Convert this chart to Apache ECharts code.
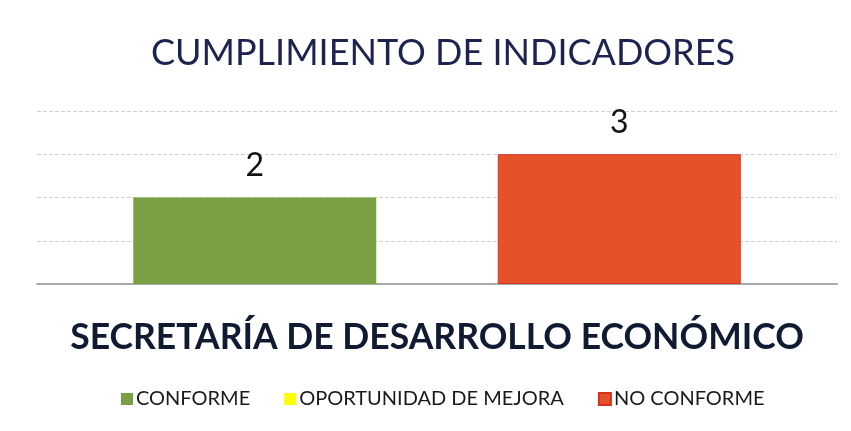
<!DOCTYPE html>
<html>
<head>
<meta charset="utf-8">
<script src="https://cdn.jsdelivr.net/npm/echarts@6/dist/echarts.min.js"></script>
<style>
  * { margin: 0; padding: 0; }
  body { background: #fff; }
  #main { width: 851px; height: 431px; }
</style>
</head>
<body>
<div id="main"></div>
<script>
// datos
var categorias = ['SECRETARÍA DE DESARROLLO ECONÓMICO'];
var conforme = [2];
var oportunidad = [0];
var noConforme = [3];
var colores = ['#7aa043', '#ffff00', '#e4512b'];

var chart = echarts.init(document.getElementById('main'));

function etiqueta(p) {
    return p.value === 0 ? '' : p.value;
}

var labelStyle = {
    show: true,
    position: 'top',
    distance: 16,
    formatter: etiqueta,
    color: '#111',
    fontSize: 32,
    fontFamily: 'Lato'
};

chart.setOption({
    backgroundColor: '#fff',
    title: {
        text: 'CUMPLIMIENTO DE INDICADORES',
        left: 146,
        top: 30,
        textStyle: {
            color: '#1c2350',
            fontSize: 36,
            fontWeight: 'normal',
            fontFamily: 'Lato'
        }
    },
    legend: {
        bottom: 17,
        left: 116,
        itemWidth: 12,
        itemHeight: 12,
        itemGap: 34,
        icon: 'rect',
        textStyle: {
            color: '#1a1a1a',
            fontSize: 20,
            fontFamily: 'Lato',
            padding: [0, 0, 0, -2]
        }
    },
    grid: {
        left: 37,
        right: 14,
        top: 111,
        bottom: 147
    },
    xAxis: {
        type: 'category',
        data: categorias,
        axisTick: { show: false },
        axisLine: { lineStyle: { color: '#a6a9b0', width: 2 } },
        axisLabel: {
            margin: 36,
            color: '#111a33',
            fontSize: 35.5,
            fontWeight: 'bold',
            fontFamily: 'Lato'
        }
    },
    yAxis: {
        type: 'value',
        min: 0,
        max: 4,
        interval: 1,
        axisLabel: { show: false },
        axisLine: { show: false },
        splitLine: { lineStyle: { color: '#cfcfcf', type: 'dashed', width: 1 } }
    },
    series: [{
        name: 'CONFORME',
        type: 'bar',
        barWidth: 243,
        barGap: '-25%',
        itemStyle: { color: colores[0] },
        label: labelStyle,
        data: conforme
    }, {
        name: 'OPORTUNIDAD DE MEJORA',
        type: 'bar',
        barWidth: 243,
        barGap: '-25%',
        itemStyle: { color: colores[1] },
        label: labelStyle,
        data: oportunidad
    }, {
        name: 'NO CONFORME',
        type: 'bar',
        barWidth: 243,
        barGap: '-25%',
        itemStyle: { color: colores[2], borderColor: '#d9301c', borderWidth: 1 },
        label: labelStyle,
        data: noConforme
    }]
});
</script>
</body>
</html>
